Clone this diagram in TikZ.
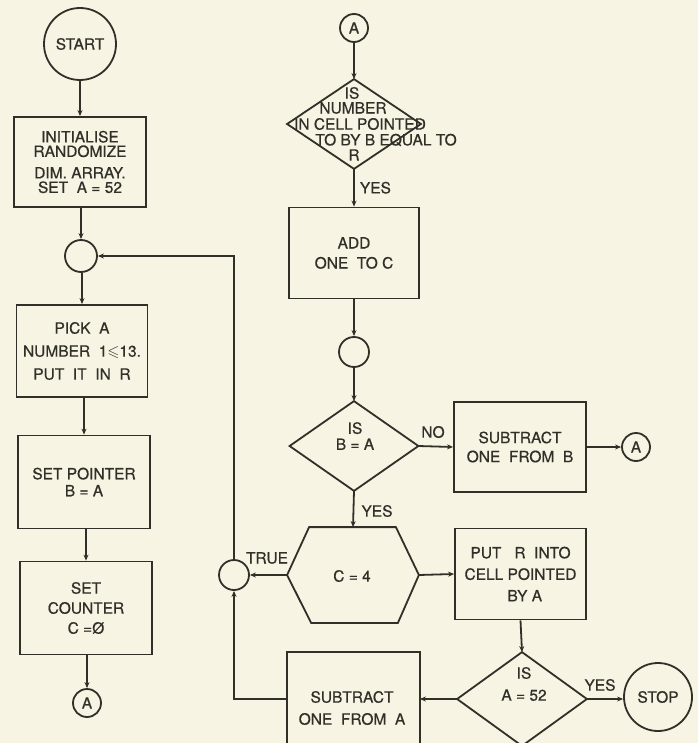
\documentclass[tikz,border=0pt]{standalone}
\usepackage{amssymb}
\usepackage{fontspec}
\setmainfont{TeX Gyre Heros}[FakeBold=0.6]
\usetikzlibrary{arrows.meta,calc}
\definecolor{paper}{HTML}{F8F4E4}
\definecolor{ink}{HTML}{303028}
\begin{document}
\begin{tikzpicture}[x=1pt,y=-1pt,line width=1.8pt,
  every node/.style={text=ink},
  txt/.style={inner sep=0pt,align=center,font=\fontsize{15.5}{17}\selectfont},
  box/.style={draw=ink,rectangle,inner sep=0pt,align=center,font=\fontsize{15.5}{18}\selectfont},
  circ/.style={draw=ink,circle,inner sep=0pt,font=\fontsize{15.5}{17}\selectfont},
  frame/.style={rectangle,inner sep=0pt},
  arr/.style={draw=ink,-{Stealth[length=6pt,width=5pt]}},
  ln/.style={draw=ink}]
\useasboundingbox (0,0) rectangle (698,743);
\fill[paper] (0,0) rectangle (698,743);
\clip (0,0) rectangle (698,743);

% ---------- left column ----------
\node[circ,minimum size=72pt] (start) at (80,44) {START};
\node[box,minimum width=132pt,minimum height=90pt,font=\fontsize{15.5}{14.5}\selectfont] (init) at (80,162)
  {INITIALISE\\RANDOMIZE\\[7pt]DIM. ARRAY.\\SET\ \ A = 52};
\node[circ,minimum size=32pt] (c1) at (81,256) {};
\node[box,minimum width=131pt,minimum height=92pt,font=\fontsize{15.5}{23}\selectfont] (pick) at (82,351)
  {PICK\ \ A\\NUMBER\ \ 1$\leqslant$13.\\PUT\ \ IT\ \ IN\ \ R};
\node[box,minimum width=132pt,minimum height=93pt,font=\fontsize{15.5}{17}\selectfont] (setp) at (84,482)
  {SET POINTER\\B = A};
\node[box,minimum width=132pt,minimum height=93pt,font=\fontsize{15.5}{20}\selectfont] (setc) at (86,608)
  {SET\\COUNTER\\C =Ø};
\node[circ,minimum size=28pt] (a1) at (87,703) {A};

\draw[arr] (start.south) -- (start.south |- init.north);
\draw[arr] (c1.north |- init.south) -- (c1.north);
\draw[arr] (pick.north |- c1.south) -- (pick.north);
\draw[arr] (setp.north |- pick.south) -- (setp.north);
\draw[arr] (setc.north |- setp.south) -- (setc.north);
\draw[arr] (a1.north |- setc.south) -- (a1.north);

% ---------- right column ----------
\node[circ,minimum size=28pt] (a2) at (354,28) {A};
\node[frame,minimum width=132pt,minimum height=88pt] (d1) at (354,124) {};
\draw[ln] (d1.north) -- (d1.east) -- (d1.south) -- (d1.west) -- cycle;
\node[txt] (d1t1) at (352,93) {IS};
\node[txt] (d1t2) at (353,108) {NUMBER};
\node[txt] (d1t3) at (360,124) {IN CELL POINTED};
\node[txt] (d1t4) at (386,140) {TO BY B EQUAL TO};
\node[txt] (d1t5) at (354,155) {R};
\draw[arr] (a2.south) -- (d1.north);

\node[box,minimum width=130pt,minimum height=91pt,font=\fontsize{15.5}{20}\selectfont] (add) at (354,253)
  {ADD\\ONE\ \ TO C};
\draw[arr] (d1.south) -- (add.north) node[txt,pos=0.5,anchor=west,xshift=5pt] (yes1) {YES};

\node[circ,minimum size=30pt] (c2) at (354,352) {};
\draw[arr] (add.south) -- (c2.north);

\node[frame,minimum width=127pt,minimum height=88pt] (d2) at (354,446) {};
\draw[ln] (d2.north) -- (d2.east) -- (d2.south) -- (d2.west) -- cycle;
\node[txt,font=\fontsize{15.5}{16}\selectfont] (d2t) at (355,436) {IS\\B = A};
\draw[arr] (c2.south) -- (d2.north);

\node[box,minimum width=132pt,minimum height=90pt,font=\fontsize{15.5}{19}\selectfont] (subb) at (520,447)
  {SUBTRACT\\ONE\ \ FROM\ \ B};
\draw[arr] (d2.east) -- (subb.west);
\node[txt] (no) at (433,432) {NO};
\node[circ,minimum size=28pt] (a3) at (636,447) {A};
\draw[arr] (subb.east) -- (a3.west);

\node[frame,minimum width=130pt,minimum height=94pt] (hex) at (353,575) {};
\draw[ln] (hex.west) -- ($(hex.north west)+(22,0)$) -- ($(hex.north east)+(-23,0)$) -- (hex.east)
  -- ($(hex.south east)+(-21,0)$) -- ($(hex.south west)+(24,0)$) -- cycle;
\node[txt] (hext) at (352,576) {C = 4};
\draw[arr] (d2.south) -- (hex.north);
\node[txt] (yes2) at (377,511) {YES};

\node[circ,minimum size=30pt] (tru) at (234,575) {};
\node[txt] (truel) at (267,558) {TRUE};
\draw[arr] (hex.west) -- (tru.east);
\draw[arr] (tru.north) -- (tru.north |- c1) -- (c1.east);

\node[box,minimum width=131pt,minimum height=91pt,font=\fontsize{15.5}{21.5}\selectfont] (putr) at (520.5,574)
  {PUT\ \ \ R\ \ INTO\\CELL POINTED\\\ \ BY A};
\draw[arr] (hex.east) -- (putr.west);

\node[frame,minimum width=128pt,minimum height=92pt] (d3) at (522,699) {};
\draw[ln] (d3.north) -- (d3.east) -- (d3.south) -- (d3.west) -- cycle;
\node[txt,font=\fontsize{15.5}{22}\selectfont] (d3t) at (524,684) {IS\\A = 52};
\draw[arr] (putr.south) -- (d3.north);

\node[circ,minimum size=68pt] (stop) at (658,697) {STOP};
\draw[arr] (d3.east) -- (d3.east -| stop.west);
\node[txt] (yes3) at (600,685) {YES};

\node[frame,minimum width=131pt,minimum height=98pt] (suba) at (353.5,702) {};
\draw[ln] (suba.south west) -- (suba.north west) -- (suba.north east) -- (suba.south east);
\node[txt,font=\fontsize{15.5}{22}\selectfont] (subat) at (352,708) {SUBTRACT\\ONE\ \ FROM\ \ A};
\draw[arr] (d3.west) -- (d3.west -| suba.east);
\draw[arr] (d3.west -| suba.west) -| (tru.south);
\end{tikzpicture}
\end{document}
